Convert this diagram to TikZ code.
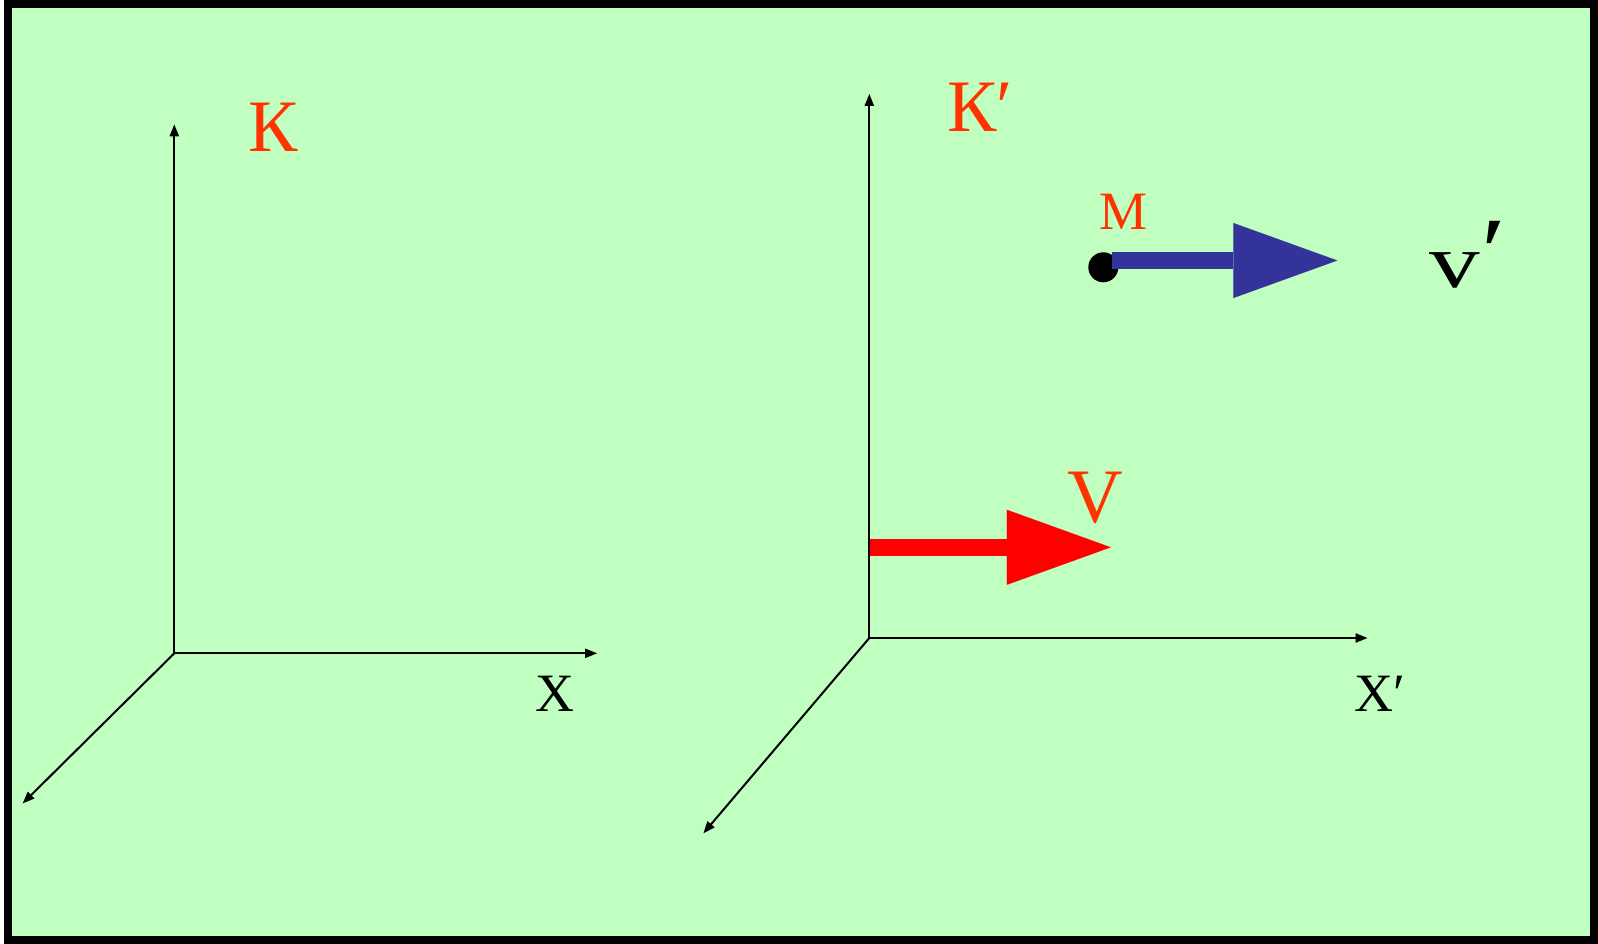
\documentclass[tikz,border=0pt]{standalone}
\usepackage{fontspec}
\usepackage{graphicx}
\setmainfont{Liberation Serif}
\usetikzlibrary{arrows.meta}
\definecolor{bggreen}{RGB}{192,255,192}
\definecolor{lblred}{RGB}{255,51,0}
\definecolor{vblue}{RGB}{51,51,153}
\begin{document}
\begin{tikzpicture}[x=1pt,y=-1pt,
  axis/.style={line width=2pt,-{Triangle[length=12pt,width=9pt]}},
  lbl/.style={inner sep=0pt,outer sep=0pt},
  redlbl/.style={lbl,text=lblred},
  big/.style={line width=16.5pt,-{Triangle[length=104pt,width=75pt,line width=0.1pt]}}]
\useasboundingbox (0,0) rectangle (1598,944);
\draw[line width=8pt, fill=bggreen] (7.5,3.7) rectangle (1594,940);
% left frame K
\coordinate (O1) at (174.3,653.3);
\coordinate (Y1) at (174.3,124.3);
\coordinate (X1) at (597.2,653.3);
\coordinate (Z1) at (22.6,803.5);
\draw[axis] (O1) -- (Y1);
\draw[axis] (O1) -- (X1);
\draw[axis] (O1) -- (Z1);
% right frame K'
\coordinate (O2) at (869.3,638);
\coordinate (Y2) at (869.3,93.8);
\coordinate (X2) at (1367.6,638);
\coordinate (Z2) at (703.3,833.4);
\draw[axis] (O2) -- (Y2);
\draw[axis] (O2) -- (X2);
\draw[axis] (O2) -- (Z2);
% velocity V
\coordinate (Vs) at (870.3,547.3);
\coordinate (Ve) at (1110.8,547.3);
\draw[big, color=red] (Vs) -- (Ve);
% point M and v'
\node[circle, fill=black, inner sep=0pt, minimum size=30pt] (Mdot) at (1103.3,267.3) {};
\coordinate (Ms) at (1111.7,260.5);
\coordinate (Me) at (1337.3,260.5);
\draw[big, color=vblue] (Ms) -- (Me);
% labels
\node[redlbl, font=\fontsize{74}{80}\selectfont, anchor=base] (K) at (273,152) {К};
\node[redlbl, font=\fontsize{74}{80}\selectfont, anchor=base west] (Kp) at (947,132) {К′};
\node[redlbl, font=\fontsize{54}{60}\selectfont, anchor=base] (M) at (1123,229.3) {М};
\node[redlbl, font=\fontsize{77}{80}\selectfont, anchor=base] (V) at (1095.5,522.7) {V};
\node[lbl, font=\fontsize{54}{60}\selectfont, anchor=base] (X) at (554.7,711.7) {X};
\node[lbl, font=\fontsize{54}{60}\selectfont, anchor=base west] (Xp) at (1354,711.7) {X′};
\node[lbl, font=\fontsize{76}{80}\selectfont, anchor=base west] (vp) at (1429,287.3) {\scalebox{1.33}[1]{v}\kern2pt\raisebox{4pt}{\scalebox{1.5}[1.25]{′}}};
\end{tikzpicture}
\end{document}
